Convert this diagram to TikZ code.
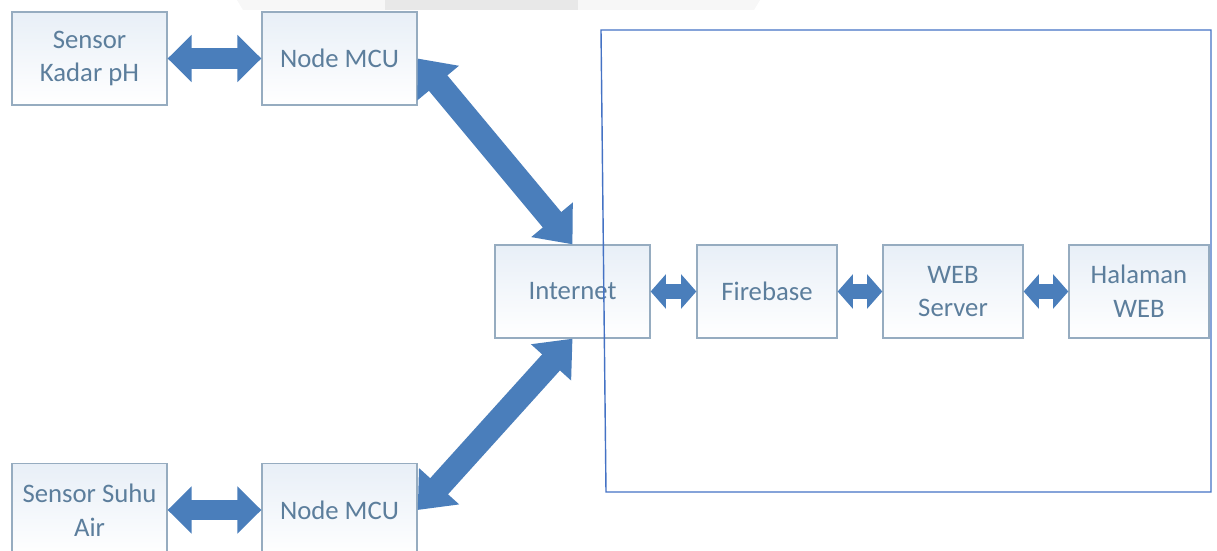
\documentclass[tikz,border=0pt]{standalone}
\usepackage{fontspec}
\setmainfont{Carlito}
\usetikzlibrary{arrows.meta,positioning}
\definecolor{arrowblue}{RGB}{74,126,187}
\definecolor{boxline}{RGB}{150,172,192}
\definecolor{boxtext}{RGB}{92,126,156}
\definecolor{boxtop}{RGB}{232,239,247}
\definecolor{framblue}{RGB}{68,114,196}

\begin{document}
\begin{tikzpicture}[
  x=0.025cm, y=-0.025cm,
  box/.style={draw=boxline,line width=0.9pt,top color=boxtop,bottom color=white,
    minimum width=3.875cm,minimum height=2.325cm,align=center,text=boxtext,
    font=\fontsize{19}{24}\selectfont},
  boxnarrow/.style={box,minimum width=3.5cm},
  link/.style={draw=arrowblue,line width=0.52cm,
    {Triangle[length=0.6cm,width=1.15cm,fill=arrowblue]}-{Triangle[length=0.6cm,width=1.15cm,fill=arrowblue]}},
  linkdiag/.style={draw=arrowblue,line width=0.6cm,
    {Triangle[length=0.8cm,width=1.3cm,fill=arrowblue]}-{Triangle[length=0.8cm,width=1.3cm,fill=arrowblue]}},
  linksmall/.style={draw=arrowblue,line width=0.38cm,
    {Triangle[length=0.38cm,width=0.84cm,fill=arrowblue]}-{Triangle[length=0.38cm,width=0.84cm,fill=arrowblue]}}
]
  \useasboundingbox (0,0) rectangle (1217,551);

  % faint banner at the top edge
  \fill[black!3] (237,0) -- (760,0) -- (754,10) -- (243,10) -- cycle;
  \fill[black!9] (385,0) rectangle (578,10);

  % Sensor side
  \node[box] (sensorA) at (89.5,58.5) {Sensor\\Kadar pH};
  \node[box] (mcuA)    at (339.5,58.5) {Node MCU};
  \node[box] (sensorB) at (89.5,510) {Sensor Suhu\\Air};
  \node[box] (mcuB)    at (339.5,510) {Node MCU};

  % Server side
  \node[box]       (internet)  at (572.5,291.5) {Internet};
  \node[boxnarrow] (firebase)  at (767,291.5)   {Firebase};
  \node[boxnarrow] (webserver) at (953,291.5)   {WEB\\Server};
  \node[boxnarrow] (halaman)   at (1139,291.5)  {Halaman\\WEB};

  % Links
  \draw[link] (sensorA.east) -- (mcuA.west);
  \draw[link] (sensorB.east) -- (mcuB.west);
  \draw[linkdiag] (mcuA.east) -- (internet.north);
  \draw[linkdiag] (internet.south) -- (mcuB.east);
  \draw[linksmall] (internet.east) -- (firebase.west);
  \draw[linksmall] (firebase.east) -- (webserver.west);
  \draw[linksmall] (webserver.east) -- (halaman.west);

  % Frame round the server side
  \draw[framblue,line width=1pt] (601,30) -- (1211,30) -- (1211,492) -- (606,492) -- cycle;
\end{tikzpicture}
\end{document}
